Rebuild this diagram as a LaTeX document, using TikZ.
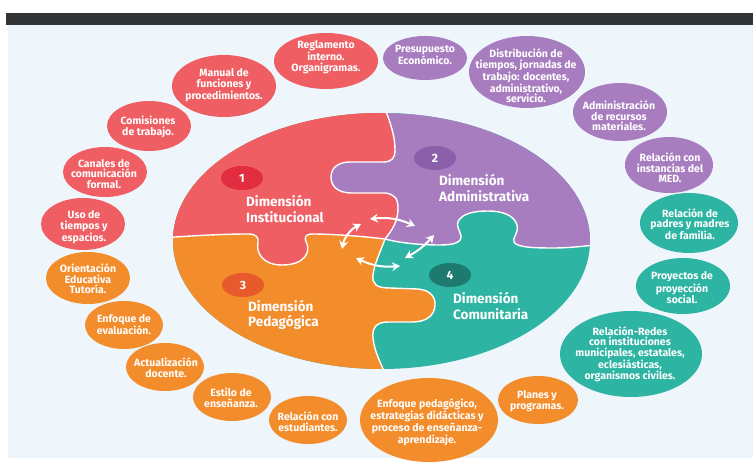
\documentclass[tikz,border=0pt]{standalone}
\usepackage{fontspec}
\setmainfont{Fira Sans}
\usetikzlibrary{arrows.meta,shapes.geometric}
\definecolor{bgc}{HTML}{EEF6FC}
\definecolor{bandc}{HTML}{323436}
\definecolor{cred}{HTML}{EE5E62}
\definecolor{cpur}{HTML}{A77DBF}
\definecolor{cora}{HTML}{F38C2B}
\definecolor{ctea}{HTML}{2DB4A2}
\definecolor{bred}{HTML}{E12D3F}
\definecolor{bpur}{HTML}{8C5FAA}
\definecolor{bora}{HTML}{E85A2C}
\definecolor{btea}{HTML}{1E7A6E}
\tikzset{
  hpath/.style={insert path={(160,238) .. controls (190,236) and (220,234) .. (248,234)
     .. controls (256,234) and (259,237) .. (258,243)
     .. controls (256,252) and (262,265) .. (282,265)
     .. controls (305,265) and (310,252) .. (307,244)
     .. controls (304,238) and (304,234) .. (313,234)
     .. controls (330,234) and (360,236) .. (385,239)
     .. controls (400,243) and (420,245) .. (440,245)
     .. controls (452,245) and (462,243) .. (461,236)
     .. controls (460,230) and (455,226) .. (459,220)
     .. controls (464,213) and (475,211) .. (488,211)
     .. controls (502,211) and (514,215) .. (517,225)
     .. controls (519,233) and (512,238) .. (514,242)
     .. controls (517,247) and (530,248) .. (553,248)
     .. controls (570,248) and (585,246) .. (605,244)}},
  vpath/.style={insert path={(384,106) .. controls (390,122) and (395,135) .. (395,150)
     .. controls (395,158) and (392,162) .. (383,162)
     -- (350,162)
     .. controls (338,162) and (331,168) .. (331,177)
     .. controls (331,185) and (336,193) .. (352,193)
     -- (385,193)
     .. controls (394,194) and (398,198) .. (398,208)
     .. controls (398,222) and (392,230) .. (385,239)
     .. controls (381,250) and (374,265) .. (373,275)
     .. controls (372,284) and (376,288) .. (390,288)
     -- (418,289)
     .. controls (430,290) and (436,297) .. (435,306)
     .. controls (434,316) and (426,322) .. (412,322)
     -- (388,322)
     .. controls (376,322) and (372,328) .. (373,338)
     .. controls (374,350) and (380,362) .. (388,380)}},
  stxt/.style={align=center, inner sep=0pt, text=white,
     font=\fontsize{10.5}{10.6}\selectfont\bfseries},
  biglab/.style={align=left, inner sep=0pt, text=white, anchor=west,
     font=\fontsize{13.5}{15.5}\selectfont\bfseries},
  badge/.style={ellipse, minimum width=42pt, minimum height=24pt, inner sep=0pt,
     text=white, font=\fontsize{12}{12}\selectfont\bfseries},
  arr/.style={draw=white, line width=2pt,
     {Stealth[length=8pt,width=9pt]}-{Stealth[length=8pt,width=9pt]}}
}
\begin{document}
\begin{tikzpicture}[x=1pt,y=-1pt]
\useasboundingbox (0,0) rectangle (753,468);
\fill[white] (0,0) rectangle (753,468);
\fill[bgc] (8,25) rectangle (753,458);
\fill[bandc] (6,13) rectangle (753,25);

% central puzzle
\begin{scope}
  \clip (381.5,241) ellipse [x radius=208.5pt, y radius=128pt];
  \fill[ctea] (150,100) rectangle (620,390);
  \fill[cpur, hpath] -- (605,90) -- (160,90) -- cycle;
  \begin{scope}
    \clip[vpath] -- (150,380) -- (150,100) -- (384,100) -- cycle;
    \fill[cora] (150,100) rectangle (620,390);
    \fill[cred, hpath] -- (605,90) -- (160,90) -- cycle;
  \end{scope}
  \draw[white, line width=1.4pt, hpath];
  \draw[white, line width=1.4pt, vpath];
\end{scope}

% badges and labels
\node[badge, fill=bred] (n1) at (242,178) {1};
\node[badge, fill=bpur] (n2) at (435,158) {2};
\node[badge, fill=bora] (n3) at (243,285) {3};
\node[badge, fill=btea] (n4) at (450,275) {4};
\node[biglab] (l1) at (246,209) {Dimensión\\Institucional};
\node[biglab] (l2) at (439,188) {Dimensión\\Administrativa};
\node[biglab] (l3) at (248,315) {Dimensión\\Pedagógica};
\node[biglab] (l4) at (453,306) {Dimensión\\Comunitaria};

% arrows
\coordinate (a1s) at (370,219); \coordinate (a1e) at (415,226);
\coordinate (a2s) at (361,224); \coordinate (a2e) at (342,249);
\coordinate (a3s) at (356,258); \coordinate (a3e) at (400,266);
\coordinate (a4s) at (434,235); \coordinate (a4e) at (405,258);
\draw[arr] (a1s) to[bend left=15] (a1e);
\draw[arr] (a2s) to[bend right=25] (a2e);
\draw[arr] (a3s) to[bend right=15] (a3e);
\draw[arr] (a4s) to[bend left=10] (a4e);

% red bubbles
\fill[cred] (326,61) ellipse [x radius=52pt, y radius=28pt];
\node[stxt] (r1) at (326,57) {Reglamento\\interno.\\Organigramas.};
\fill[cred] (224,86) ellipse [x radius=52pt, y radius=31pt];
\node[stxt] (r2) at (224,85) {Manual de\\funciones y\\procedimientos.};
\fill[cred] (149,126) ellipse [x radius=42pt, y radius=25pt];
\node[stxt] (r3) at (148,127) {Comisiones\\de trabajo.};
\fill[cred] (105,172) ellipse [x radius=42pt, y radius=25pt];
\node[stxt] (r4) at (104,174) {Canales de\\comunicación\\formal.};
\fill[cred] (83,224) ellipse [x radius=42pt, y radius=26pt];
\node[stxt] (r5) at (84,227) {Uso de\\tiempos y\\espacios.};

% orange bubbles
\fill[cora] (88,278) ellipse [x radius=42pt, y radius=26pt];
\node[stxt] (o1) at (88,279) {Orientación\\Educativa\\Tutoría.};
\fill[cora] (124,325) ellipse [x radius=39pt, y radius=24pt];
\node[stxt] (o2) at (124,325) {Enfoque de\\evaluación.};
\fill[cora] (165,367) ellipse [x radius=39pt, y radius=24pt];
\node[stxt] (o3) at (166,368) {Actualización\\docente.};
\fill[cora] (232,397) ellipse [x radius=39pt, y radius=24pt];
\node[stxt] (o4) at (231,398) {Estilo de\\enseñanza.};
\fill[cora] (308,420) ellipse [x radius=39pt, y radius=24pt];
\node[stxt] (o5) at (308,422) {Relación con\\estudiantes.};
\fill[cora] (429,420) ellipse [x radius=69pt, y radius=42pt];
\node[stxt] (o6) at (427,422) {Enfoque pedagógico,\\estrategias didácticas y\\proceso de enseñanza-\\aprendizaje.};
\fill[cora] (538,400) ellipse [x radius=40pt, y radius=24pt];
\node[stxt] (o7) at (537,401) {Planes y\\programas.};

% teal bubbles
\fill[ctea] (631,354) ellipse [x radius=71pt, y radius=43pt];
\node[stxt] (t1) at (630,354) {Relación-Redes\\con instituciones\\municipales, estatales,\\eclesiásticas,\\organismos civiles.};
\fill[ctea] (683,286) ellipse [x radius=47pt, y radius=28pt];
\node[stxt] (t2) at (682,288) {Proyectos de\\proyección\\social.};
\fill[ctea] (689,223) ellipse [x radius=49pt, y radius=30pt];
\node[stxt] (t3) at (690,224) {Relación de\\padres y madres\\de familia.};

% purple bubbles
\fill[cpur] (669,165) ellipse [x radius=44pt, y radius=28pt];
\node[stxt] (p1) at (670,168) {Relación con\\instancias del\\MED.};
\fill[cpur] (620,112) ellipse [x radius=47pt, y radius=29pt];
\node[stxt] (p2) at (619,116) {Administración\\de recursos\\materiales.};
\fill[cpur] (527,72) ellipse [x radius=58pt, y radius=36pt];
\node[stxt] (p3) at (526,76) {Distribución de\\tiempos, jornadas de\\trabajo: docentes,\\administrativo,\\servicio.};
\fill[cpur] (425,58) ellipse [x radius=42pt, y radius=22pt];
\node[stxt] (p4) at (425,55) {Presupuesto\\Económico.};
\end{tikzpicture}
\end{document}
